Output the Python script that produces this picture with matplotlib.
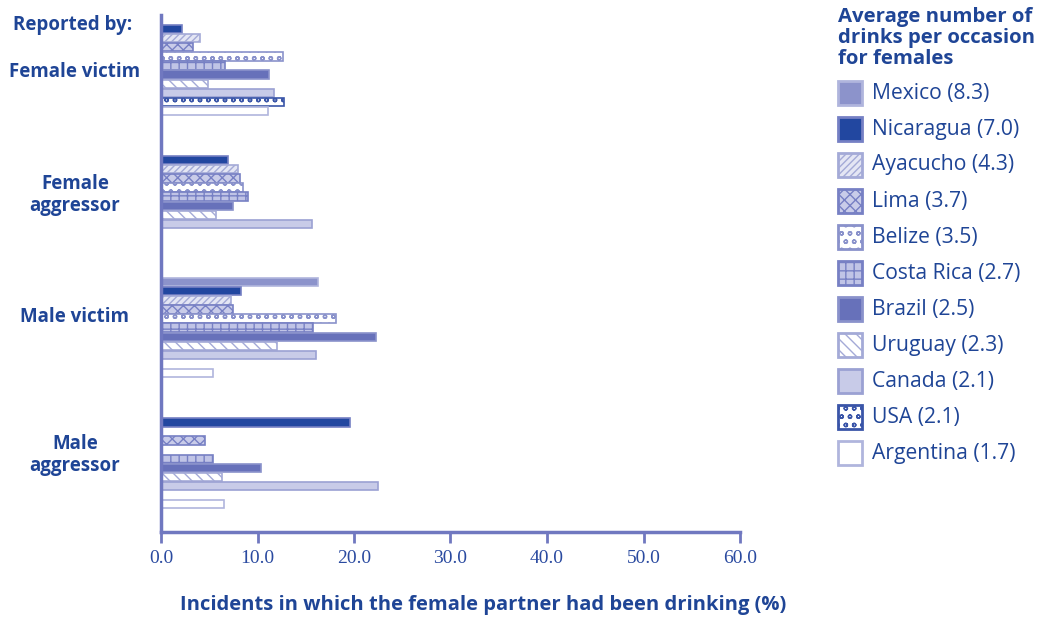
import matplotlib
matplotlib.use("Agg")
import matplotlib.pyplot as plt
from matplotlib.patches import Rectangle
import numpy as np

plt.rcParams['font.family'] = ['Open Sans', 'DejaVu Sans']
plt.rcParams['hatch.linewidth'] = 1.0

# countries and their average number of drinks per occasion (females)
countries = ['Mexico', 'Nicaragua', 'Ayacucho', 'Lima', 'Belize', 'Costa Rica',
             'Brazil', 'Uruguay', 'Canada', 'USA', 'Argentina']
drinks = [8.3, 7.0, 4.3, 3.7, 3.5, 2.7, 2.5, 2.3, 2.1, 2.1, 1.7]

groups = ['Female victim', 'Female\naggressor', 'Male victim', 'Male\naggressor']

# % of incidents in which the female partner had been drinking, per country
female_victim = [0, 2.2, 4.0, 3.3, 12.6, 6.6, 11.2, 4.9, 11.7, 12.7, 11.1]
female_aggressor = [0, 6.9, 8.0, 8.2, 8.5, 9.0, 7.5, 5.7, 15.6, 0, 0]
male_victim = [16.3, 8.3, 7.3, 7.5, 18.1, 15.8, 22.3, 12.0, 16.1, 0, 5.4]
male_aggressor = [0, 19.6, 0, 4.6, 0, 5.4, 10.4, 6.3, 22.5, 0, 6.5]

xticks = [0, 10, 20, 30, 40, 50, 60]

# fill, edge/hatch colour, hatch
styles = [
    ('#8c93cb', '#b0b5dd', None),
    ('#2247a0', '#7580c4', None),
    ('#e4e6f4', '#a4aad7', '/////'),
    ('#c9cce9', '#7780c4', 'xxx'),
    ('#ffffff', '#8a92cb', 'oo'),
    ('#c0c4e6', '#7780c4', '++'),
    ('#6771ba', '#8a92cb', None),
    ('#ffffff', '#a4aad7', '\\\\\\'),
    ('#c8cbe8', '#9ba1d3', None),
    ('#ffffff', '#3a55a8', 'oo'),
    ('#ffffff', '#b0b5dd', None),
]

navy = '#1f4596'
axis_col = '#7078c0'

W, H = 1038, 617
fig = plt.figure(figsize=(W / 100, H / 100), dpi=100)
ax = fig.add_axes([161 / W, 1 - 532 / H, (740 - 161) / W, (532 - 15) / H])

values = np.array([female_victim, female_aggressor, male_victim, male_aggressor])
group_step = 14.4
first = 0.55

for i, c in enumerate(countries):
    face, edge, hatch = styles[i]
    ys, ws = [], []
    for g in range(len(groups)):
        if values[g, i] > 0:
            ys.append(first + g * group_step + i)
            ws.append(values[g, i])
    ax.barh(ys, ws, height=0.92, color=face, edgecolor=edge, hatch=hatch,
            linewidth=1.2)

ax.set_xlim(0, 60)
ax.set_ylim(56.8, 0)
ax.set_xticks(xticks)
ax.set_xticklabels([f'{t:.1f}' for t in xticks], family='Liberation Serif',
                   fontsize=14, color='#2a4aa0')
ax.set_yticks([])
ax.tick_params(axis='x', length=8, width=2, color=axis_col, pad=5)
for s in ['top', 'right']:
    ax.spines[s].set_visible(False)
for s in ['left', 'bottom']:
    ax.spines[s].set_color(axis_col)
    ax.spines[s].set_linewidth(2.5)

# group labels down the left side
label_px = [72, 195, 317, 455]
for lab, py in zip(groups, label_px):
    fig.text(75 / W, 1 - py / H, lab, ha='center', va='center',
             fontsize=13.5, fontweight='bold', color=navy, linespacing=1.15)
fig.text(73 / W, 1 - 25 / H, 'Reported by:', ha='center', va='center',
         fontsize=13.5, fontweight='bold', color=navy)

fig.text(483 / W, 1 - 605 / H,
         'Incidents in which the female partner had been drinking (%)',
         ha='center', va='center', fontsize=14.5, fontweight='bold', color=navy)

# legend
fig.text(838 / W, 1 - 7 / H, 'Average number of\ndrinks per occasion\nfor females',
         ha='left', va='top', fontsize=14.7, fontweight='bold', color=navy,
         linespacing=1.07)
for k, c in enumerate(countries):
    face, edge, hatch = styles[k]
    cy = 93 + 36 * k
    fig.add_artist(Rectangle((838 / W, 1 - (cy + 12) / H), 24 / W, 24 / H,
                             transform=fig.transFigure, facecolor=face,
                             edgecolor=edge, hatch=hatch, linewidth=2))
    fig.text(872 / W, 1 - cy / H, f'{c} ({drinks[k]:.1f})', ha='left',
             va='center', fontsize=15.2, color=navy)

fig.savefig('out.png', dpi=100)
